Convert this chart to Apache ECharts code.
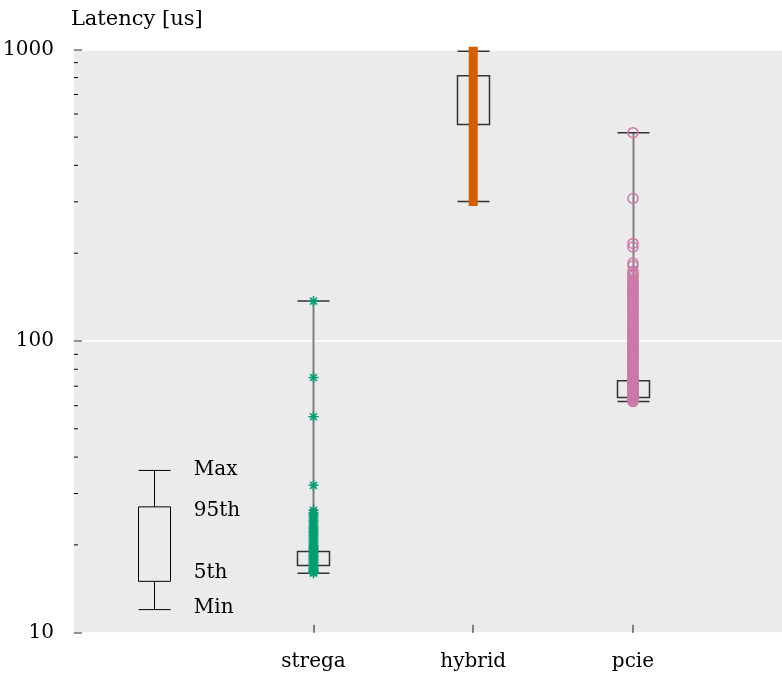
<!DOCTYPE html>
<html>
<head>
<meta charset="utf-8">
<script src="https://cdn.jsdelivr.net/npm/echarts@6/dist/echarts.min.js"></script>
<style>html,body{margin:0;padding:0;background:#fff}#c{width:782px;height:679px}</style>
</head>
<body>
<div id="c"></div>
<script>
// ---- data ----
const categories = ['strega', 'hybrid', 'pcie'];
const categoryPositions = [1, 2, 3];
const legendPosition = 0;
const legendStats = [12, 15, 27, 36];            // min, 5th, 95th, max
const legendLabels = ['Min', '5th', '95th', 'Max'];
const stregaStats = [16, 17, 19, 137];
const hybridStats = [301, 552, 812, 985];
const pcieStats = [62, 64, 73, 518];
const stregaSamples = [137, 75, 55, 32, 26.3, 25.8, 25.4, 25, 24.6, 24.2, 23.8, 23.4, 23, 22.7, 22.4, 22.1, 21.8, 21.5, 21.2, 20.9, 20.6, 20.3, 20, 19.8, 19.6, 19.4, 19.2, 19, 18.8, 18.6, 18.4, 18.2, 18, 17.8, 17.6, 17.4, 17.2, 17, 16.8, 16.6, 16.5, 16.3, 16.2, 16.1, 16];
const hybridRange = [301, 985];
const pcieSamples = [518, 308, 216, 210, 185, 181, 173, 170, 167, 164, 161, 159, 157, 155, 153, 151, 149, 147, 145, 143, 141, 139, 137, 135, 133, 131, 129, 127, 125, 123, 121, 119, 117, 115, 113.5, 112, 110.5, 109, 107.5, 106, 104.5, 103, 101.5, 100, 99, 98, 97, 96, 95, 94, 93, 92, 91, 90, 89, 88, 87, 86, 85, 84, 83, 82, 81, 80, 79, 78, 77, 76, 75, 74.5, 74, 73.5, 73, 72.5, 72, 71.5, 71, 70.5, 70, 69.5, 69, 68.5, 68, 67.5, 67, 66.5, 66, 65.5, 65, 64.5, 64, 63.5, 63, 62.5, 62];
const yMinorTicks = [20, 30, 40, 50, 60, 70, 80, 90, 200, 300, 400, 500, 600, 700, 800, 900];

// ---- styles ----
const FONT = 'DejaVu Serif';
const legendLabelDy = [-2, -9, 4, -1];
const boxStyles = [
  { whisker: '#000', whiskerW: 1, cap: '#000', capW: 1, box: '#000', boxW: 1 },
  { whisker: '#7f7f7f', whiskerW: 2, cap: '#333', capW: 1.5, box: '#333', boxW: 1.5 }
];

const boxData = [
  [legendPosition, ...legendStats, 0],
  [categoryPositions[0], ...stregaStats, 1],
  [categoryPositions[1], ...hybridStats, 1],
  [categoryPositions[2], ...pcieStats, 1]
];

const chart = echarts.init(document.getElementById('c'), null, { renderer: 'canvas' });

const option = {
  animation: false,
  backgroundColor: '#fff',
  grid: {
    left: 72.7, right: 0, top: 49.3, bottom: 46.3,
    show: true, backgroundColor: '#ebebeb', borderWidth: 0
  },
  xAxis: {
    type: 'value', min: -0.5, max: 3.933,
    axisLine: { show: false, onZero: false },
    splitLine: { show: false },
    axisTick: {
      show: true, customValues: categoryPositions, inside: true, length: 8,
      lineStyle: { color: '#7f7f7f', width: 2 }
    },
    axisLabel: {
      customValues: categoryPositions,
      formatter: v => categories[categoryPositions.indexOf(v)],
      margin: 19, fontFamily: FONT, fontSize: 20, color: '#000'
    }
  },
  yAxis: {
    type: 'log', logBase: 10, min: 10, max: 1000, interval: 1,
    name: 'Latency [us]', nameLocation: 'end', nameGap: 30,
    nameTextStyle: { fontFamily: FONT, fontSize: 21, color: '#000', align: 'left', verticalAlign: 'middle', padding: [0, 0, 0, -3] },
    axisLine: { show: false, onZero: false },
    axisTick: { show: true, inside: true, length: 8, lineStyle: { color: '#6f6f6f', width: 1.5 } },
    minorTick: { show: false },
    splitLine: { show: true, lineStyle: { color: '#ffffff', width: 1.5 } },
    axisLabel: {
      margin: 20, fontFamily: FONT, fontSize: 20, color: '#000',
      formatter: v => String(Math.round(v))
    }
  },
  series: [
    {
      type: 'custom', name: 'minorTicks', silent: true, z: 3,
      data: yMinorTicks.map(v => [-0.5, v]),
      renderItem: (params, api) => {
        const p = api.coord([api.value(0), api.value(1)]);
        return { type: 'line', shape: { x1: p[0], y1: p[1], x2: p[0] + 4, y2: p[1] },
                 style: { stroke: '#000', lineWidth: 1 } };
      }
    },
    {
      type: 'custom', name: 'boxes', silent: true, z: 4,
      data: boxData,
      renderItem: (params, api) => {
        const x = api.value(0);
        const s = boxStyles[api.value(5)];
        const pMin = api.coord([x, api.value(1)]);
        const p5 = api.coord([x, api.value(2)]);
        const p95 = api.coord([x, api.value(3)]);
        const pMax = api.coord([x, api.value(4)]);
        const cx = Math.round(pMin[0]) + 0.5;
        const hw = 16;
        return {
          type: 'group',
          children: [
            { type: 'line', shape: { x1: cx, y1: pMin[1], x2: cx, y2: p5[1] }, style: { stroke: s.whisker, lineWidth: s.whiskerW } },
            { type: 'line', shape: { x1: cx, y1: p95[1], x2: cx, y2: pMax[1] }, style: { stroke: s.whisker, lineWidth: s.whiskerW } },
            { type: 'rect', shape: { x: cx - hw, y: p95[1], width: 2 * hw, height: p5[1] - p95[1] }, style: { fill: 'none', stroke: s.box, lineWidth: s.boxW } },
            { type: 'line', shape: { x1: cx - hw, y1: pMin[1], x2: cx + hw, y2: pMin[1] }, style: { stroke: s.cap, lineWidth: s.capW } },
            { type: 'line', shape: { x1: cx - hw, y1: pMax[1], x2: cx + hw, y2: pMax[1] }, style: { stroke: s.cap, lineWidth: s.capW } }
          ]
        };
      }
    },
    {
      type: 'custom', name: 'legendLabels', silent: true, z: 5,
      data: legendStats.map((v, i) => [legendPosition, v, i]),
      renderItem: (params, api) => {
        const i = api.value(2);
        const p = api.coord([api.value(0), api.value(1)]);
        return { type: 'text', x: p[0] + 40, y: p[1] + legendLabelDy[i],
                 style: { text: legendLabels[i], fill: '#000', font: '20px "' + FONT + '"', textAlign: 'left', textVerticalAlign: 'middle' } };
      }
    },
    {
      type: 'line', name: 'hybrid', z: 6, clip: false,
      data: hybridRange.map(v => [categoryPositions[1], v]),
      symbol: 'none',
      lineStyle: { color: '#d55e00', width: 9, cap: 'square' }
    },
    {
      type: 'scatter', name: 'strega', z: 7,
      data: stregaSamples.map(v => [categoryPositions[0], v]),
      symbol: 'path://M0,5L10,5M5,0L5,10M1.5,1.5L8.5,8.5M1.5,8.5L8.5,1.5',
      symbolSize: 10,
      itemStyle: { color: 'transparent', borderColor: '#009e73', borderWidth: 1.5, opacity: 1 }
    },
    {
      type: 'scatter', name: 'pcie', z: 7,
      data: pcieSamples.map(v => [categoryPositions[2], v]),
      symbol: 'circle', symbolSize: 10,
      itemStyle: { color: 'transparent', borderColor: '#cc79a7', borderWidth: 1.5, opacity: 1 }
    }
  ]
};
chart.setOption(option);
</script>
</body>
</html>
